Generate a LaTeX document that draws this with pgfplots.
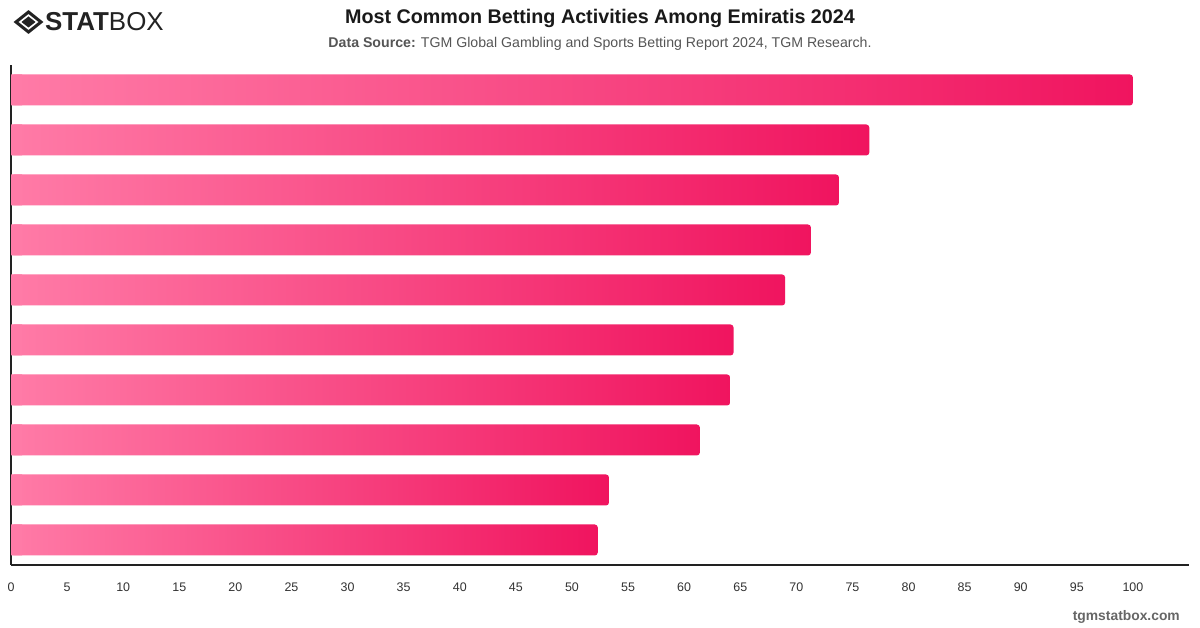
\documentclass[border=0pt]{standalone}
\usepackage{fontspec}
\setmainfont{Liberation Sans}
\usepackage{pgfplots}
\pgfplotsset{compat=1.18}

\definecolor{barlight}{HTML}{FF7BA7}
\definecolor{bardark}{HTML}{F0145F}
\definecolor{axisgray}{HTML}{222222}
\definecolor{ticktext}{HTML}{333333}
\definecolor{subgray}{HTML}{555555}
\definecolor{footgray}{HTML}{666666}

% one gradient bar per activity, so every bar runs light to dark
\pgfplotsset{
  gradbar/.style={xbar, bar width=31bp, bar shift=0pt, draw=none,
    left color=barlight, right color=bardark, rounded corners=3bp},
}

\begin{document}
\begin{tikzpicture}[x=1bp,y=1bp]
  % canvas 1200 x 628
  \fill[white] (0,0) rectangle (1200,628);
  \useasboundingbox (0,0) rectangle (1200,628);

  % logo
  \begin{scope}[shift={(28.5,606)}]
    \draw[axisgray, line width=3bp, line join=miter] (-12.5,0) -- (0,10) -- (12.5,0) -- (0,-10) -- cycle;
    \fill[axisgray] (-7,0) -- (0,5.5) -- (7,0) -- (0,-5.5) -- cycle;
  \end{scope}
  \node[anchor=west, inner sep=0pt, text=axisgray] at (45,606)
    {\fontsize{26}{28}\selectfont\textbf{STAT}BOX};

  % titles
  \node[anchor=center, inner sep=0pt, text=black!90] at (600,610)
    {\fontsize{19.8}{22}\selectfont\bfseries Most Common Betting Activities Among Emiratis 2024};
  \node[anchor=center, inner sep=0pt, text=subgray] at (600,584)
    {\fontsize{14.2}{16}\selectfont\textbf{Data Source:} TGM Global Gambling and Sports Betting Report 2024, TGM Research.};

  % footer
  \node[anchor=east, inner sep=0pt, text=footgray] at (1180,11)
    {\fontsize{13.9}{16}\selectfont\bfseries tgmstatbox.com};

  % bars are indexed bottom (0) to top (9)
  \begin{axis}[
    at={(11bp,63bp)}, anchor=south west,
    scale only axis, width=1178bp, height=500bp,
    xmin=0, xmax=105, ymin=-0.5, ymax=9.5,
    enlargelimits=false,
    axis x line*=bottom, axis y line*=left,
    axis line style={draw=axisgray, line width=1.2bp, -},
    xtick={0,5,...,100}, ytick=\empty,
    major tick length=0pt,
    xticklabel style={anchor=center, yshift=-22bp},
    tick label style={font=\fontsize{12.5}{14}\selectfont, text=ticktext},
    /pgf/number format/assume math mode=true,
    clip=false,
  ]
    \addplot[gradbar] coordinates {(100,9)};
    \addplot[gradbar] coordinates {(76.5,8)};
    \addplot[gradbar] coordinates {(73.8,7)};
    \addplot[gradbar] coordinates {(71.3,6)};
    \addplot[gradbar] coordinates {(69.0,5)};
    \addplot[gradbar] coordinates {(64.4,4)};
    \addplot[gradbar] coordinates {(64.1,3)};
    \addplot[gradbar] coordinates {(61.4,2)};
    \addplot[gradbar] coordinates {(53.3,1)};
    \addplot[gradbar] coordinates {(52.3,0)};
    % square off the bar starts at the axis
    \addplot[xbar, bar width=31bp, bar shift=0pt, draw=none, fill=barlight]
      coordinates {
        (1,0) (1,1) (1,2) (1,3) (1,4) (1,5) (1,6) (1,7) (1,8) (1,9)
      };
  \end{axis}
\end{tikzpicture}
\end{document}
